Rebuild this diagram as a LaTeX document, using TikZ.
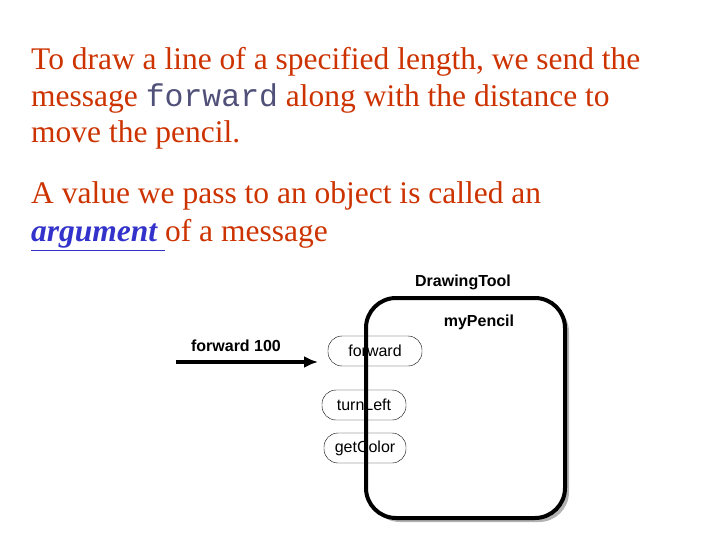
\documentclass[tikz,border=0pt]{standalone}
\usetikzlibrary{arrows.meta}
\usepackage{fontspec}
\setmainfont{Liberation Serif}
\newfontfamily\arialf{Liberation Sans}
\newfontfamily\courf{Liberation Mono}
\definecolor{txt}{RGB}{204,51,0}
\definecolor{arg}{RGB}{51,51,204}
\definecolor{code}{RGB}{80,80,120}
\begin{document}
\begin{tikzpicture}[x=1pt,y=-1pt,
  para/.style={anchor=west,text=txt,font=\fontsize{31.5}{37}\selectfont,inner sep=0},
  lbl/.style={font=\arialf\bfseries\fontsize{16}{18}\selectfont,inner sep=0},
  msg/.style={draw,rounded corners=14pt,minimum height=30pt,inner sep=0,font=\arialf\fontsize{16}{18}\selectfont}]
\useasboundingbox (0,0) rectangle (720,540);
\node[para] (l1) at (31,62) {To draw a line of a specified length, we send the};
\node[para] (l2) at (31,98) {message {\courf\color{code}forward} along with the distance to};
\node[para] (l3) at (31,135) {move the pencil.};
\node[para] (l4) at (31,196) {A value we pass to an object is called an};
\node[para] (l5) at (31,235) {{\color{arg}\bfseries\itshape\underline{argument }}of a message};
\fill[gray!60,rounded corners=30pt] (370,302) rectangle (569,522);
\draw[line width=4pt,fill=white,rounded corners=30pt] (366,298) rectangle (565,518);
\node[lbl] (dt) at (463,282) {DrawingTool};
\node[lbl] (mp) at (479,322) {myPencil};
\node[msg,minimum width=94pt] (fw) at (375,351) {forward};
\node[msg,minimum width=84pt] (tl) at (364,405) {turnLeft};
\node[msg,minimum width=82pt] (gc) at (365,448) {getColor};
\draw[line width=4pt] (366,330) -- (366,480);
\node[lbl] (f100) at (236,346) {forward 100};
\coordinate (a0) at (176,362);
\coordinate (a1) at (318,362);
\draw[line width=4pt,-{Latex[length=14pt,width=12pt]}] (a0) -- (a1);
\end{tikzpicture}
\end{document}
